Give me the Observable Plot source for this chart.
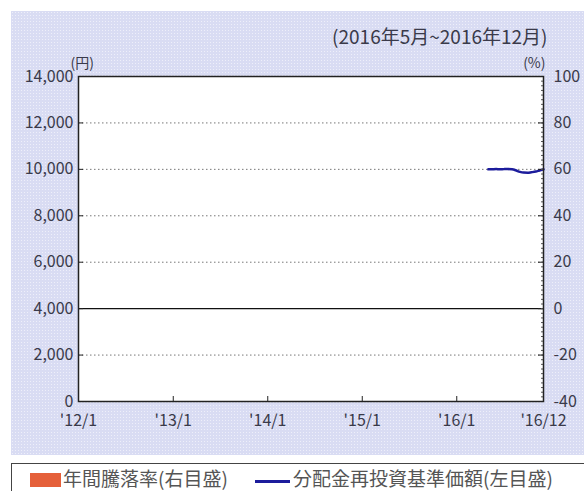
<!DOCTYPE html>
<html><head><meta charset="utf-8">
<script src="https://cdn.jsdelivr.net/npm/d3@7"></script>
<script src="https://cdn.jsdelivr.net/npm/@observablehq/plot@0.6"></script>
<style>
  html,body{margin:0;padding:0;background:#fff;width:584px;height:491px;overflow:hidden;font-family:"Noto Sans CJK JP","Noto Sans",sans-serif;}
  #panel{position:absolute;left:11px;top:11px;width:580px;height:444px;background-color:#d9dcf3;
    background-image:radial-gradient(circle, rgba(255,255,255,0.55) 0.7px, transparent 0.9px);background-size:3px 3px;}
  #chart{position:absolute;left:0;top:0;}
  #legend{position:absolute;left:11px;top:463px;width:590px;height:40px;border:1px solid #444;box-sizing:border-box;background:#fff;}
  .sw{position:absolute;}
  .lt{position:absolute;top:0px;font-size:19px;color:#555;white-space:nowrap;}
</style>
</head><body>
<div id="panel"></div>
<div id="chart"></div>
<div id="legend">
  <div class="sw" style="left:18px;top:9px;width:31px;height:14px;background:#e5603a;"></div>
  <div class="lt" id="leg1" style="left:51px;"></div>
  <div class="sw" style="left:243px;top:16px;width:35px;height:3px;background:#1c1c9c;"></div>
  <div class="lt" id="leg2" style="left:281px;"></div>
</div>
<script>
const title = "(2016年5月~2016年12月)";
const leftUnit = "(円)";
const rightUnit = "(%)";
const legendLabels = ["年間騰落率(右目盛)", "分配金再投資基準価額(左目盛)"];

// NAV (reinvested), yen
const navDates = ["2016-05-02","2016-05-16","2016-06-01","2016-06-15","2016-07-01","2016-07-15","2016-08-01","2016-08-15","2016-09-01","2016-09-15","2016-10-01","2016-10-15","2016-11-01","2016-11-15","2016-12-01"];
const navValues = [10000,10005,10015,10000,10010,10015,10000,9960,9890,9860,9855,9875,9905,9950,10000];

const yTicks = [0,2000,4000,6000,8000,10000,12000,14000];
const gridDotted = [2000,6000,8000,10000,12000];
const zeroLine = [4000];
const rightMinor = d3.range(0, 14001, 200);
const xTickDates = ["2012-01-01","2013-01-01","2014-01-01","2015-01-01","2016-01-01","2016-12-01"];
const xTickLabels = ["'12/1","'13/1","'14/1","'15/1","'16/1","'16/12"];

const nav = navDates.map((d,i)=>({date:new Date(d), value:navValues[i]}));
const xt = xTickDates.map(d=>new Date(d));
const labelOf = new Map(xt.map((d,i)=>[+d, xTickLabels[i]]));

const W = 584, H = 455, mT = 76, mL = 78, mR = 41, mB = 54;
const pw = W - mL - mR, ph = H - mT - mB;

const chart = Plot.plot({
  width:W, height:H,
  marginTop:mT, marginLeft:mL, marginRight:mR, marginBottom:mB,
  style:{background:"transparent", fontFamily:"'Noto Sans CJK JP', sans-serif", fontSize:"16px", color:"#3a3a4a", overflow:"visible"},
  x:{type:"utc", domain:[new Date("2012-01-01"), new Date("2016-12-01")]},
  y:{domain:[0,14000]},
  marks:[
    Plot.frame({fill:"white"}),
    Plot.ruleY(gridDotted, {stroke:"#777", strokeDasharray:"1.5,2.5"}),
    Plot.ruleY(zeroLine, {stroke:"#111", strokeWidth:1.2}),
    Plot.lineY(nav, {x:"date", y:"value", stroke:"#1c1c9c", strokeWidth:2.5, curve:"monotone-x"}),
    // inward ticks
    Plot.tickY(yTicks, {y:d=>d, stroke:"#222", insetRight:pw-5}),
    Plot.tickY(yTicks, {y:d=>d, stroke:"#222", insetLeft:pw-5}),
    Plot.tickY(rightMinor, {y:d=>d, stroke:"#555", insetLeft:pw-2}),
    Plot.tickX(xt.slice(1,5), {x:d=>d, stroke:"#222", insetTop:ph-5}),
    // labels
    Plot.axisY(yTicks, {anchor:"left", tickSize:0, tickPadding:5, tickFormat:d3.format(","), label:null}),
    Plot.axisY(yTicks, {anchor:"right", tickSize:0, tickPadding:10, tickFormat:d=>String((d-4000)/100), label:null}),
    Plot.axisX(xt, {anchor:"bottom", tickSize:0, tickPadding:13, tickFormat:d=>labelOf.get(+d), label:null}),
    Plot.frame({stroke:"#222", strokeWidth:1.5}),
    Plot.text([leftUnit], {frameAnchor:"top-left", dy:-18, dx:-8, textAnchor:"start", fontSize:14}),
    Plot.text([rightUnit], {frameAnchor:"top-right", dy:-18, dx:2, textAnchor:"end", fontSize:14}),
    Plot.text([title], {frameAnchor:"top-right", dy:-46, dx:4, textAnchor:"end", fontSize:19})
  ]
});
document.getElementById("chart").appendChild(chart);
document.getElementById("leg1").textContent = legendLabels[0];
document.getElementById("leg2").textContent = legendLabels[1];
</script>
</body></html>
